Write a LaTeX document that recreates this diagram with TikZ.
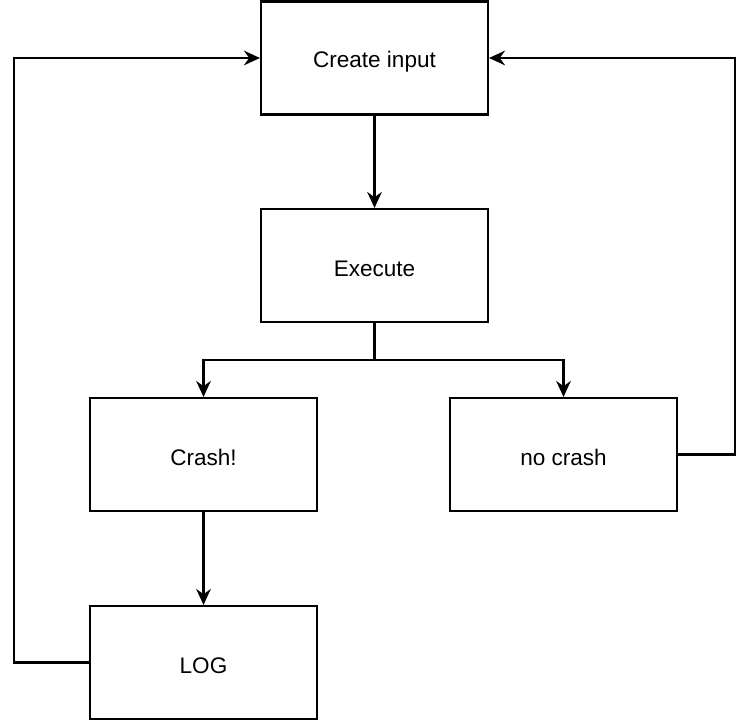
\documentclass[tikz,border=0pt]{standalone}
\usepackage{fontspec}
\setmainfont{Liberation Sans}
\usetikzlibrary{arrows.meta}
\begin{document}
\begin{tikzpicture}[x=0.75pt,y=-0.75pt,
  box/.style={draw=black,line width=1.6pt,minimum width=170.25pt,minimum height=84.75pt,inner sep=0pt,font=\fontsize{16.9}{20}\selectfont},
  lbl/.style={font=\fontsize{16.9}{20}\selectfont,inner sep=0pt},
  conn/.style={draw=black,line width=1.6pt,-{Stealth[length=12pt,width=11pt,inset=4pt]}},
  plain/.style={draw=black,line width=1.6pt}]
\useasboundingbox (0,0) rectangle (750,723);
\node[box] (create) at (374.5,58) {};
\node[box] (exec) at (374.5,265.5) {};
\node[box] (crash) at (203.5,454.5) {};
\node[box] (nocrash) at (563.5,454.5) {};
\node[box] (log) at (203.5,662.5) {};
\node[lbl] (t1) at ([yshift=-2.5pt]create.center) {Create input};
\node[lbl] (t2) at ([yshift=-2.5pt]exec.center) {Execute};
\node[lbl] (t3) at ([yshift=-2.5pt]crash.center) {Crash!};
\node[lbl] (t4) at ([yshift=-2.5pt]nocrash.center) {no crash};
\node[lbl] (t5) at ([yshift=-2.5pt]log.center) {LOG};
\coordinate (split) at (374.5,360);
\draw[conn] (create) -- (exec);
\draw[plain] (exec.south) -- (split);
\draw[conn] (split) -| (crash.north);
\draw[conn] (split) -| (nocrash.north);
\draw[conn] (crash) -- (log);
\draw[conn] (log.west) -- (14,662.5) |- (create.west);
\draw[conn] (nocrash.east) -- (735,454.5) |- (create.east);
\end{tikzpicture}
\end{document}
